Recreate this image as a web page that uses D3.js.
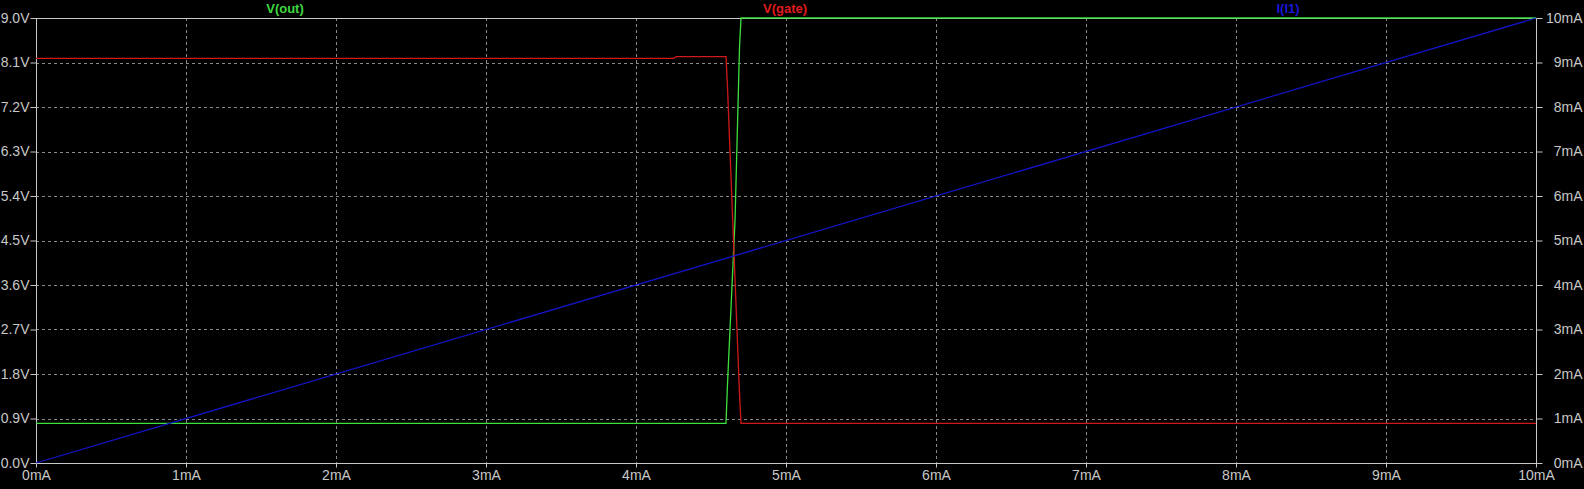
<!DOCTYPE html>
<html><head><meta charset="utf-8">
<script src="https://cdn.jsdelivr.net/npm/d3@7"></script>
<style>html,body{margin:0;padding:0;background:#000;overflow:hidden}</style>
</head><body>
<svg id="c" width="1584" height="489"></svg>
<script>
// Data
const xTicks = [0,1,2,3,4,5,6,7,8,9,10];          // mA (sweep current)
const xTickLabels = ["0mA","1mA","2mA","3mA","4mA","5mA","6mA","7mA","8mA","9mA","10mA"];
const yLeftTicks = [0,0.9,1.8,2.7,3.6,4.5,5.4,6.3,7.2,8.1,9.0];
const yLeftLabels = ["0.0V","0.9V","1.8V","2.7V","3.6V","4.5V","5.4V","6.3V","7.2V","8.1V","9.0V"];
const yRightTicks = [0,1,2,3,4,5,6,7,8,9,10];
const yRightLabels = ["0mA","1mA","2mA","3mA","4mA","5mA","6mA","7mA","8mA","9mA","10mA"];
const seriesNames = ["V(out)","V(gate)","I(I1)"];
const vOut = [[0,0.80],[4.60,0.80],[4.61,1.6],[4.66,4.9],[4.69,8.4],[4.70,9.0],[10,9.0]];
const vGate = [[0,8.185],[4.25,8.185],[4.27,8.22],[4.60,8.22],[4.61,7.6],[4.65,4.5],[4.69,1.4],[4.70,0.80],[10,0.80]];
const iI1 = [[0,0],[10,10]];

const svg = d3.select("#c");
const L=36,R=1536,T=18,B=463;
const x = d3.scaleLinear().domain([0,10]).range([L,R]);
const yV = d3.scaleLinear().domain([0,9]).range([B,T]);
const yI = d3.scaleLinear().domain([0,10]).range([B,T]);
const axisCol="#c8c8c8", gridCol="#8a8a8a";
const font="'Liberation Sans', Arial, sans-serif";

// grid
const g = svg.append("g");
g.selectAll(".vg").data(xTicks.slice(1,-1)).enter().append("line")
  .attr("x1",d=>x(d)+0.5).attr("x2",d=>x(d)+0.5).attr("y1",T).attr("y2",B)
  .attr("stroke",gridCol).attr("stroke-dasharray","3,3").attr("stroke-width",1);
g.selectAll(".hg").data(yLeftTicks.slice(1,-1)).enter().append("line")
  .attr("y1",d=>Math.round(yV(d))+0.5).attr("y2",d=>Math.round(yV(d))+0.5).attr("x1",L).attr("x2",R)
  .attr("stroke",gridCol).attr("stroke-dasharray","3,3").attr("stroke-width",1);

// axes
const ax = svg.append("g");
const xAxis = d3.axisBottom(x).tickValues(xTicks).tickFormat((d,i)=>xTickLabels[i]).tickSize(4).tickPadding(3);
const yAxisL = d3.axisLeft(yV).tickValues(yLeftTicks).tickFormat((d,i)=>yLeftLabels[i]).tickSize(6).tickPadding(1);
const yAxisR = d3.axisRight(yI).tickValues(yRightTicks).tickFormat((d,i)=>yRightLabels[i]).tickSize(6).tickPadding(0);
function style(sel){
  sel.select(".domain").remove();
  sel.selectAll("line").attr("stroke",axisCol);
  sel.selectAll("text").attr("fill",axisCol).attr("font-family",font).attr("font-size","14px");
}
ax.append("g").attr("transform",`translate(0,${B+0.5})`).call(xAxis).call(style);
ax.append("g").attr("transform",`translate(${L+0.5},0)`).call(yAxisL).call(style);
const rg = ax.append("g").attr("transform",`translate(${R+0.5},0)`).call(yAxisR).call(style);
rg.selectAll("text").attr("text-anchor","end").attr("x",46);

// frame
svg.append("rect").attr("x",L+0.5).attr("y",T+0.5).attr("width",R-L).attr("height",B-T)
  .attr("fill","none").attr("stroke",axisCol).attr("stroke-width",1);

// series
const lineV = d3.line().x(d=>x(d[0])).y(d=>yV(d[1]));
const lineI = d3.line().x(d=>x(d[0])).y(d=>yI(d[1]));
svg.append("path").attr("d",lineV(vOut)).attr("fill","none").attr("stroke","#3ee03e").attr("stroke-width",1.3);
svg.append("path").attr("d",lineV(vGate)).attr("fill","none").attr("stroke","#d01818").attr("stroke-width",1.3);
svg.append("path").attr("d",lineI(iI1)).attr("fill","none").attr("stroke","#1414c8").attr("stroke-width",1.3);

// legend titles
const legX=[285,785,1288], legC=["#3ed83e","#e01c1c","#1818d8"];
svg.selectAll(".lt").data(seriesNames).enter().append("text")
  .attr("x",(d,i)=>legX[i]).attr("y",13).attr("text-anchor","middle")
  .attr("fill",(d,i)=>legC[i]).attr("font-family",font).attr("font-weight","bold").attr("font-size","13px")
  .text(d=>d);
</script>
</body></html>
